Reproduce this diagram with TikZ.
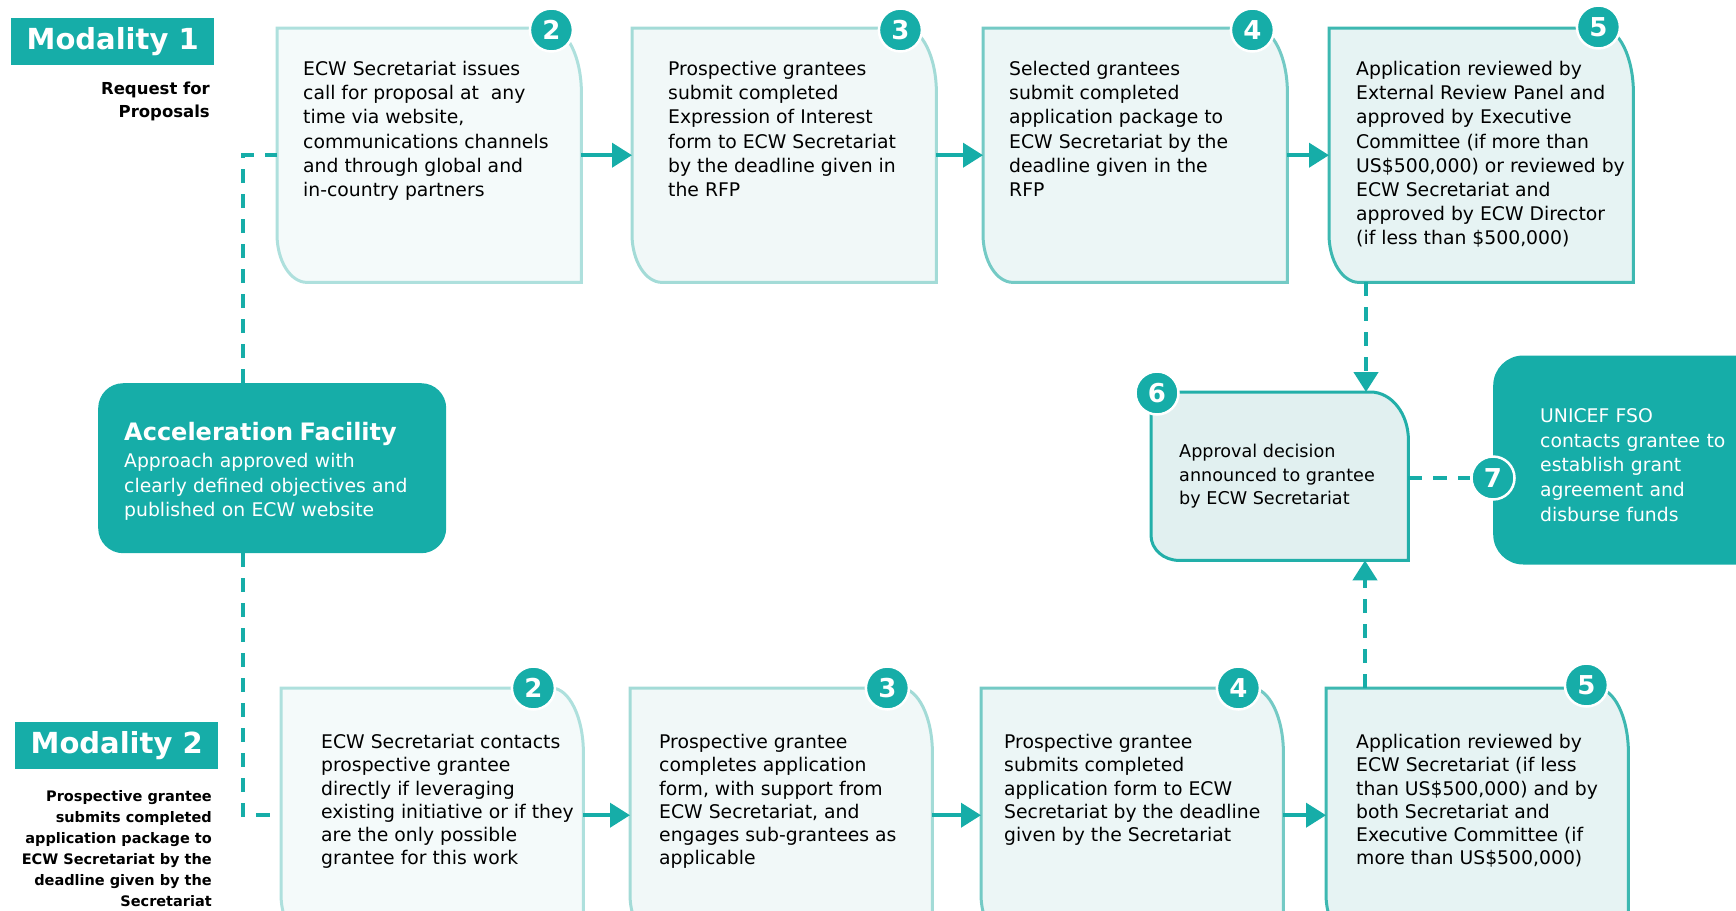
\documentclass[tikz,border=0pt]{standalone}
\usepackage{fontspec}
\setmainfont{DejaVu Sans}
\usepackage{xcolor}
\usetikzlibrary{arrows.meta}

\definecolor{ecwteal}{HTML}{16ADA8}
\definecolor{edgeA}{HTML}{AEE0DD}
\definecolor{edgeB}{HTML}{A3DBD7}
\definecolor{edgeC}{HTML}{74CAC5}
\definecolor{edgeD}{HTML}{3DB8B1}
\definecolor{edgeE}{HTML}{22AFA9}
\definecolor{paperA}{HTML}{F4FAFA}
\definecolor{paperB}{HTML}{F1F8F8}
\definecolor{paperC}{HTML}{ECF6F6}
\definecolor{paperD}{HTML}{E6F3F3}
\definecolor{paperE}{HTML}{E1F0F0}

\newcommand\ecwbody{\fontsize{18.8pt}{24.2pt}\selectfont}
\newcommand\ecwlow{\fontsize{18.8pt}{23.3pt}\selectfont}
\newcommand\ecwsmall{\fontsize{17.6pt}{23.5pt}\selectfont}
\newcommand\ecwwide{\fontsize{18.8pt}{24.8pt}\selectfont}
\newcommand\ecwhead{\bfseries\fontsize{29pt}{32pt}\selectfont}
\newcommand\ecwtitle{\bfseries\fontsize{24pt}{26pt}\selectfont}
\newcommand\ecwdigit{\bfseries\fontsize{26pt}{28pt}\selectfont}
\newcommand\ecwnote{\bfseries\fontsize{16.5pt}{22.5pt}\selectfont}
\newcommand\ecwnotes{\bfseries\fontsize{14.5pt}{21pt}\selectfont}

\newcommand\stepframe[7]{\draw[line width=3pt, draw=#6, fill=#7] (#1.north west) -- ([xshift=-#2]#1.north east) arc[start angle=90, end angle=0, x radius=#2, y radius=#3] -- (#1.south east) -- ([xshift=#4]#1.south west) arc[start angle=270, end angle=180, x radius=#4, y radius=#5] -- cycle;}

\tikzset{
	stepbox/.style={minimum width=304pt, minimum height=254pt, inner sep=0pt, anchor=north west},
	steptext/.style={anchor=north west, align=left, inner sep=0pt, font=\ecwbody},
	num/.style={circle, fill=ecwteal, draw=white, line width=2.5pt, minimum size=43pt, inner sep=0pt, text=white, font=\ecwdigit},
	modality/.style={fill=ecwteal, text=white, font=\ecwhead, minimum width=203pt, minimum height=47pt, inner sep=0pt, anchor=north west},
	facility/.style={fill=ecwteal, text=white, align=left, rounded corners=25pt, font=\ecwwide},
	flow/.style={line width=4pt, draw=ecwteal, -{Triangle[length=20pt, width=24pt]}},
	link/.style={line width=4.5pt, draw=ecwteal, dash pattern=on 14pt off 11pt},
	linkarrow/.style={link, -{Triangle[length=20pt, width=24pt]}},
}

\begin{document}
\begin{tikzpicture}[x=1pt, y=-1pt]
	\useasboundingbox (0,0) rectangle (1736,910);
	\clip (0,0) rectangle (1736,910);

	\node[modality] (m1) at (11,18) {Modality 1};
	\node[anchor=north east, align=right, inner sep=0pt, font=\ecwnote] (rfp) at (210,82) {Request for\\Proposals};
	\node[modality] (m2) at (15,722) {Modality 2};
	\node[anchor=north east, align=right, inner sep=0pt, font=\ecwnotes] (pg) at (212,790) {Prospective grantee\\submits completed\\application package to\\ECW Secretariat by the\\deadline given by the\\Secretariat};

	\node[facility, anchor=north west, minimum width=348pt, minimum height=170pt, text width=296pt, inner xsep=26pt] (af) at (98,383) {\rule{0pt}{25pt}{\ecwtitle Acceleration Facility}\\[2pt]Approach approved with\\clearly defined objectives and\\published on ECW website};
	\node[facility, anchor=west, rounded corners=30pt, minimum height=209pt, text width=223pt, inner xsep=47pt] (fso) at (1493,460) {\rule{0pt}{24pt}UNICEF FSO\\contacts grantee to\\establish grant\\agreement and\\disburse funds};

	\node[stepbox] (a2) at (277,28) {};
	\node[stepbox] (a3) at (632,28) {};
	\node[stepbox] (a4) at (983,28) {};
	\node[stepbox] (a5) at (1329,28) {};
	\node[stepbox, minimum width=302pt] (b2) at (281,688) {};
	\node[stepbox, minimum width=302pt] (b3) at (630,688) {};
	\node[stepbox, minimum width=302pt] (b4) at (981,688) {};
	\node[stepbox, minimum width=302pt] (b5) at (1326,688) {};
	\node[stepbox, minimum width=257pt, minimum height=168pt] (a6) at (1151,392) {};

	\foreach \n/\e/\p in {a2/edgeA/paperA, a3/edgeB/paperB, a4/edgeC/paperC, a5/edgeD/paperD, b2/edgeA/paperA, b3/edgeB/paperB, b4/edgeC/paperC, b5/edgeD/paperD}
		\stepframe{\n}{32pt}{65pt}{30pt}{48pt}{\e}{\p};
	\stepframe{a6}{38pt}{48pt}{28pt}{25pt}{edgeE}{paperE}

	\node[steptext] (t2) at ([shift={(26pt,-33pt)}]a2.north west) {ECW Secretariat issues\\call for proposal at\ \ any\\time via website,\\communications channels\\and through global and\\in-country partners};
	\node[steptext] (t3) at ([shift={(36pt,-33pt)}]a3.north west) {Prospective grantees\\submit completed\\Expression of Interest\\form to ECW Secretariat\\by the deadline given in\\the RFP};
	\node[steptext] (t4) at ([shift={(26pt,-33pt)}]a4.north west) {Selected grantees\\submit completed\\application package to\\ECW Secretariat by the\\deadline given in the\\RFP};
	\node[steptext] (t5) at ([shift={(27pt,-33pt)}]a5.north west) {Application reviewed by\\External Review Panel and\\approved by Executive\\Committee (if more than\\US\$500,000) or reviewed by\\ECW Secretariat and\\approved by ECW Director\\(if less than \$500,000)};
	\node[steptext, font=\ecwlow] (u2) at ([shift={(40pt,-46pt)}]b2.north west) {ECW Secretariat contacts\\prospective grantee\\directly if leveraging\\existing initiative or if they\\are the only possible\\grantee for this work};
	\node[steptext, font=\ecwlow] (u3) at ([shift={(29pt,-46pt)}]b3.north west) {Prospective grantee\\completes application\\form, with support from\\ECW Secretariat, and\\engages sub-grantees as\\applicable};
	\node[steptext, font=\ecwlow] (u4) at ([shift={(23pt,-46pt)}]b4.north west) {Prospective grantee\\submits completed\\application form to ECW\\Secretariat by the deadline\\given by the Secretariat};
	\node[steptext, font=\ecwlow] (u5) at ([shift={(30pt,-46pt)}]b5.north west) {Application reviewed by\\ECW Secretariat (if less\\than US\$500,000) and by\\both Secretariat and\\Executive Committee (if\\more than US\$500,000)};
	\node[steptext, anchor=west, font=\ecwsmall] (t6) at ([xshift=28pt]a6.west) {Approval decision\\announced to grantee\\by ECW Secretariat};

	\node[num] (n2) at ([shift={(-30pt,-2pt)}]a2.north east) {2};
	\node[num] (n3) at ([shift={(-36pt,-2pt)}]a3.north east) {3};
	\node[num] (n4) at ([shift={(-35pt,-2pt)}]a4.north east) {4};
	\node[num] (n5) at ([shift={(-35pt,1pt)}]a5.north east) {5};
	\node[num] (p2) at ([xshift=-50pt]b2.north east) {2};
	\node[num] (p3) at ([xshift=-45pt]b3.north east) {3};
	\node[num] (p4) at ([xshift=-45pt]b4.north east) {4};
	\node[num] (p5) at ([shift={(-42pt,3pt)}]b5.north east) {5};
	\node[num] (n6) at ([shift={(6pt,-1pt)}]a6.north west) {6};
	\node[num] (n7) at (1493,478) {7};

	\draw[flow] (a2) -- (a3);
	\draw[flow] (a3) -- (a4);
	\draw[flow] (a4) -- (a5);
	\draw[flow] (b2) -- (b3);
	\draw[flow] (b3) -- (b4);
	\draw[flow] (b4) -- (b5);

	\draw[link] ([xshift=-29pt]af.north) |- (a2.west);
	\draw[link] ([xshift=-29pt]af.south) |- (b2.west);
	\draw[linkarrow] ([xshift=37pt]a5.south west) -- ([xshift=37pt]a5.south west |- a6.north);
	\draw[linkarrow] ([xshift=39pt]b5.north west) -- ([xshift=39pt]b5.north west |- a6.south);
	\draw[link] (a6.east |- n7) -- (n7);
\end{tikzpicture}
\end{document}
